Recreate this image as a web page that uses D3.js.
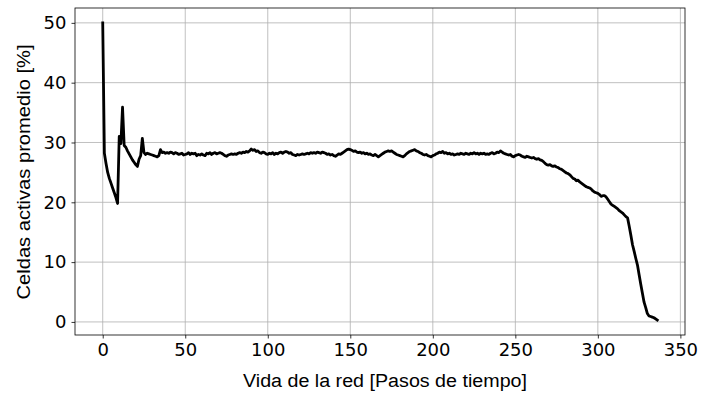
<!DOCTYPE html>
<html>
<head>
<meta charset="utf-8">
<script src="https://cdn.jsdelivr.net/npm/d3@7"></script>
<style>
  html, body { margin: 0; padding: 0; background: #fff; }
  svg { display: block; }
</style>
</head>
<body>
<svg id="chart" width="701" height="396"></svg>
<script>
// Average share of active cells per time step over the network lifetime
const activeCells = [
  50.0, 28.2, 26.5, 25.0, 24.0, 23.2, 22.4, 21.6, 20.8, 19.8,
  31.0, 29.8, 35.9, 29.5, 29.2, 28.6, 28.1, 27.6, 27.1, 26.7,
  26.3, 26.0, 27.2, 27.8, 30.7, 28.3, 28.0, 28.2, 28.1, 28.0,
  27.9, 27.8, 27.7, 27.6, 27.8, 28.8, 28.3, 28.4, 28.2, 28.3,
  28.2, 28.4, 28.3, 28.1, 28.3, 28.2, 28.0, 28.1, 28.2, 27.9,
  28.0, 28.1, 28.3, 28.0, 28.2, 28.1, 28.2, 27.8, 28.0, 27.9,
  28.1, 27.9, 27.8, 28.2, 28.1, 28.3, 28.0, 28.2, 28.3, 28.1,
  28.2, 28.3, 28.2, 28.0, 27.8, 27.7, 27.9, 28.0, 28.1, 28.0,
  28.1, 28.0, 28.2, 28.3, 28.2, 28.4, 28.3, 28.5, 28.4, 28.6,
  28.9, 28.7, 28.8, 28.5, 28.6, 28.3, 28.2, 28.4, 28.3, 28.1,
  28.0, 28.2, 28.1, 28.3, 28.0, 28.2, 28.1, 28.3, 28.4, 28.2,
  28.4, 28.5, 28.4, 28.2, 28.3, 28.0, 27.9, 27.8, 28.0, 27.9,
  28.0, 28.1, 28.0, 28.1, 28.2, 28.1, 28.3, 28.2, 28.3, 28.2,
  28.4, 28.3, 28.2, 28.4, 28.3, 28.2, 28.0, 28.1, 27.9, 28.0,
  27.8, 27.7, 27.9, 28.1, 28.0, 28.2, 28.4, 28.6, 28.8, 28.9,
  28.8, 28.7, 28.5, 28.6, 28.4, 28.3, 28.4, 28.2, 28.3, 28.1,
  28.2, 28.0, 28.1, 27.9, 27.8, 28.0, 27.8, 27.6, 27.8, 28.0,
  28.2, 28.4, 28.5, 28.6, 28.5, 28.6, 28.4, 28.2, 28.0, 27.9,
  27.8, 27.7, 27.6, 27.8, 28.1, 28.3, 28.5, 28.6, 28.7, 28.8,
  28.6, 28.5, 28.3, 28.2, 28.0, 27.9, 28.0, 27.8, 27.7, 27.6,
  27.8, 27.9, 28.1, 28.2, 28.4, 28.3, 28.5, 28.2, 28.3, 28.1,
  28.2, 28.0, 28.1, 27.9, 28.0, 28.1, 28.0, 28.2, 28.1, 28.0,
  28.2, 28.1, 28.0, 28.2, 28.1, 28.3, 28.1, 28.2, 28.0, 28.2,
  28.1, 28.2, 28.0, 28.1, 28.0, 28.2, 28.3, 28.1, 28.2, 28.4,
  28.3, 28.6, 28.4, 28.2, 28.1, 28.0, 27.9, 28.0, 27.7, 27.6,
  27.8, 27.9, 28.0, 27.9, 27.7, 27.6, 27.5, 27.7, 27.6, 27.5,
  27.4, 27.5, 27.3, 27.2, 27.3, 27.1, 27.0, 26.8, 26.5, 26.3,
  26.2, 26.3, 26.1, 26.0, 26.1, 25.9, 25.8, 25.6, 25.5, 25.3,
  25.1, 24.9, 24.8, 24.6, 24.3, 24.0, 23.9, 23.6, 23.7, 23.4,
  23.2, 23.0, 22.8, 22.6, 22.5, 22.4, 22.2, 21.9, 21.7, 21.6,
  21.5, 21.3, 21.0, 21.1, 21.1, 20.9, 20.5, 20.1, 19.7, 19.5,
  19.3, 19.1, 18.9, 18.6, 18.4, 18.2, 17.9, 17.6, 17.4, 16.0,
  14.5, 12.9, 11.8, 10.6, 9.5, 7.9, 6.3, 4.8, 3.3, 2.4,
  1.4, 1.0, 0.9, 0.8, 0.7, 0.5, 0.3
];
const timeSteps = activeCells.map((_, i) => i);

const xTicks = [0, 50, 100, 150, 200, 250, 300, 350];
const yTicks = [0, 10, 20, 30, 40, 50];
const xLabel = "Vida de la red [Pasos de tiempo]";
const yLabel = "Celdas activas promedio [%]";

const margin = { left: 75, right: 16, top: 8, bottom: 61 };
const W = 701, H = 396;
const svg = d3.select("#chart");

// matplotlib-style 5% padding around the data range
const xMin = d3.min(timeSteps), xMax = d3.max(timeSteps);
const yMin = d3.min(activeCells), yMax = d3.max(activeCells);
const xPad = (xMax - xMin) * 0.05, yPad = (yMax - yMin) * 0.05;

const x = d3.scaleLinear()
  .domain([xMin - xPad, xMax + xPad])
  .range([margin.left, W - margin.right]);
const y = d3.scaleLinear()
  .domain([yMin - yPad, yMax + yPad])
  .range([H - margin.bottom, margin.top]);

const tickFont = "'DejaVu Sans', sans-serif";
const labelFont = "'Liberation Sans', Arial, sans-serif";

// grid
const grid = svg.append("g").attr("stroke", "#b0b0b0").attr("stroke-width", 0.8);
grid.selectAll("line.vx").data(xTicks).join("line")
  .attr("x1", d => x(d)).attr("x2", d => x(d))
  .attr("y1", margin.top).attr("y2", H - margin.bottom);
grid.selectAll("line.hy").data(yTicks).join("line")
  .attr("y1", d => y(d)).attr("y2", d => y(d))
  .attr("x1", margin.left).attr("x2", W - margin.right);

// series line
const line = d3.line().x((d, i) => x(timeSteps[i])).y(d => y(d));
svg.append("path")
  .datum(activeCells)
  .attr("d", line)
  .attr("fill", "none")
  .attr("stroke", "#000")
  .attr("stroke-width", 2.8)
  .attr("stroke-linejoin", "round")
  .attr("stroke-linecap", "square");

// axes
const xAxis = svg.append("g")
  .attr("transform", `translate(0,${H - margin.bottom})`)
  .call(d3.axisBottom(x).tickValues(xTicks).tickSize(3.5).tickPadding(5).tickFormat(d3.format("d")));
const yAxis = svg.append("g")
  .attr("transform", `translate(${margin.left},0)`)
  .call(d3.axisLeft(y).tickValues(yTicks).tickSize(3.5).tickPadding(5).tickFormat(d3.format("d")));

[xAxis, yAxis].forEach(g => {
  g.select(".domain").remove();
  g.selectAll(".tick line").attr("stroke", "#000").attr("stroke-width", 0.8);
  g.selectAll(".tick text")
    .attr("fill", "#000")
    .style("font-family", tickFont)
    .style("font-size", "18px");
});

// frame
svg.append("rect")
  .attr("x", margin.left).attr("y", margin.top)
  .attr("width", W - margin.left - margin.right)
  .attr("height", H - margin.top - margin.bottom)
  .attr("fill", "none").attr("stroke", "#000").attr("stroke-width", 0.8);

// axis labels
svg.append("text")
  .attr("x", 385)
  .attr("y", 387)
  .attr("text-anchor", "middle")
  .attr("textLength", 284)
  .attr("lengthAdjust", "spacingAndGlyphs")
  .style("font-family", labelFont)
  .style("font-size", "18px")
  .text(xLabel);
svg.append("text")
  .attr("transform", `translate(30,172) rotate(-90)`)
  .attr("text-anchor", "middle")
  .attr("textLength", 255)
  .attr("lengthAdjust", "spacingAndGlyphs")
  .style("font-family", labelFont)
  .style("font-size", "18px")
  .text(yLabel);
</script>
</body>
</html>
